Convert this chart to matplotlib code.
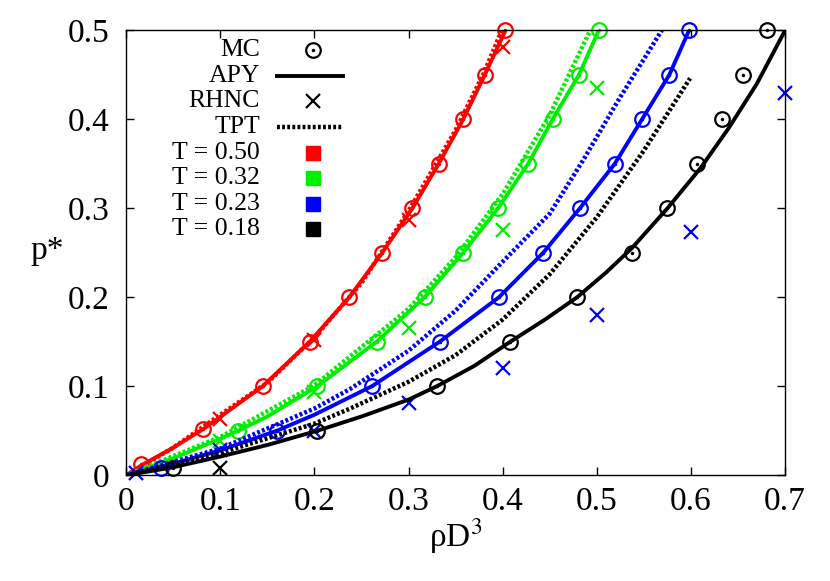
import matplotlib
matplotlib.use("Agg")
import matplotlib.pyplot as plt

plt.rcParams['font.family'] = ['Liberation Serif', 'DejaVu Serif']
plt.rcParams['mathtext.fontset'] = 'stix'

temps = ["0.50", "0.32", "0.23", "0.18"]
colors = ["#ff0000", "#00ee00", "#0000ff", "#000000"]

# MC simulation points
mc_x = [
    [0.016, 0.082, 0.145, 0.195, 0.237, 0.272, 0.304, 0.332, 0.358, 0.381, 0.402],
    [0.119, 0.203, 0.266, 0.317, 0.358, 0.395, 0.427, 0.453, 0.481, 0.502],
    [0.037, 0.160, 0.261, 0.333, 0.396, 0.443, 0.482, 0.519, 0.548, 0.577, 0.598],
    [0.050, 0.203, 0.330, 0.408, 0.479, 0.537, 0.575, 0.606, 0.633, 0.655, 0.681],
]
mc_p = [
    [0.013, 0.052, 0.10, 0.15, 0.20, 0.25, 0.30, 0.35, 0.40, 0.45, 0.50],
    [0.05, 0.10, 0.15, 0.20, 0.25, 0.30, 0.35, 0.40, 0.45, 0.50],
    [0.008, 0.05, 0.10, 0.15, 0.20, 0.25, 0.30, 0.35, 0.40, 0.45, 0.50],
    [0.008, 0.05, 0.10, 0.15, 0.20, 0.25, 0.30, 0.35, 0.40, 0.45, 0.50],
]

# RHNC points
rhnc_x = [
    [0.1, 0.2, 0.3, 0.4],
    [0.1, 0.2, 0.3, 0.4, 0.5],
    [0.01, 0.1, 0.2, 0.3, 0.4, 0.5, 0.6, 0.7],
    [0.1],
]
rhnc_p = [
    [0.063, 0.152, 0.287, 0.481],
    [0.038, 0.093, 0.166, 0.276, 0.435],
    [0.002, 0.028, 0.05, 0.081, 0.121, 0.18, 0.273, 0.429],
    [0.008],
]

# APY curves
apy_x = [
    [0.0, 0.016, 0.05, 0.082, 0.145, 0.195, 0.237, 0.272, 0.304, 0.332, 0.358, 0.381, 0.403],
    [0.0, 0.05, 0.10, 0.119, 0.15, 0.203, 0.266, 0.317, 0.358, 0.395, 0.427, 0.453, 0.481, 0.502],
    [0.0, 0.05, 0.10, 0.16, 0.20, 0.261, 0.333, 0.396, 0.443, 0.482, 0.519, 0.548, 0.577, 0.598],
    [0.0, 0.05, 0.10, 0.15, 0.203, 0.25, 0.30, 0.33, 0.37, 0.408, 0.445, 0.479, 0.51, 0.537,
     0.575, 0.61, 0.64, 0.67, 0.70],
]
apy_p = [
    [0.0, 0.011, 0.031, 0.052, 0.10, 0.15, 0.20, 0.25, 0.30, 0.35, 0.40, 0.45, 0.50],
    [0.0, 0.019, 0.041, 0.05, 0.066, 0.10, 0.15, 0.20, 0.25, 0.30, 0.35, 0.40, 0.45, 0.50],
    [0.0, 0.013, 0.028, 0.05, 0.068, 0.10, 0.15, 0.20, 0.25, 0.30, 0.35, 0.40, 0.45, 0.50],
    [0.0, 0.009, 0.021, 0.034, 0.05, 0.066, 0.085, 0.10, 0.123, 0.15, 0.175, 0.20, 0.228, 0.255,
     0.30, 0.345, 0.39, 0.44, 0.50],
]

# TPT curves
tpt_x = [
    [0.0, 0.05, 0.10, 0.15, 0.20, 0.25, 0.30, 0.35, 0.38, 0.399],
    [0.0, 0.10, 0.20, 0.30, 0.35, 0.40, 0.45, 0.493],
    [0.0, 0.10, 0.20, 0.238, 0.30, 0.35, 0.40, 0.45, 0.486, 0.522, 0.569],
    [0.0, 0.10, 0.20, 0.238, 0.30, 0.35, 0.40, 0.45, 0.50, 0.55, 0.599],
]
tpt_p = [
    [0.0, 0.031, 0.068, 0.104, 0.155, 0.216, 0.297, 0.388, 0.452, 0.50],
    [0.0, 0.043, 0.101, 0.187, 0.245, 0.316, 0.405, 0.50],
    [0.0, 0.030, 0.075, 0.097, 0.14, 0.185, 0.24, 0.294, 0.355, 0.42, 0.50],
    [0.0, 0.025, 0.058, 0.075, 0.105, 0.135, 0.175, 0.226, 0.29, 0.365, 0.446],
]

dots = (0, (0.65, 0.5))

fig = plt.figure(figsize=(8.3, 5.81), dpi=100)
ax = fig.add_axes([0.152, 0.182, 0.794, 0.766])

for i in range(4):
    c = colors[i]
    ax.plot(apy_x[i], apy_p[i], color=c, lw=2.8, solid_capstyle='butt')
    ax.plot(tpt_x[i], tpt_p[i], color=c, lw=3.2, linestyle=dots)
    ax.plot(mc_x[i], mc_p[i], 'o', ms=10.5, mfc='none', mec=c, mew=1.6, clip_on=False)
    ax.plot(mc_x[i], mc_p[i], 'o', ms=1.5, color=c, clip_on=False)
    ax.plot(rhnc_x[i], rhnc_p[i], 'x', ms=9.5, mec=c, mew=1.6, clip_on=False)

ax.set_xlim(0, 0.7)
ax.set_ylim(0, 0.5)
ax.set_xticks([0, 0.1, 0.2, 0.3, 0.4, 0.5, 0.6, 0.7])
ax.set_xticklabels(["0", "0.1", "0.2", "0.3", "0.4", "0.5", "0.6", "0.7"])
ax.set_yticks([0, 0.1, 0.2, 0.3, 0.4, 0.5])
ax.set_yticklabels(["0", "0.1", "0.2", "0.3", "0.4", "0.5"])
ax.tick_params(direction='in', length=6, width=1, top=True, right=True, labelsize=24)
ax.tick_params(axis='x', pad=8)
ax.tick_params(axis='y', pad=12)
for s in ax.spines.values():
    s.set_linewidth(1)

ax.set_xlabel(r"ρD$^3$", fontsize=24, labelpad=0)
ax.set_ylabel("p*", fontsize=24, rotation=0)
ax.yaxis.set_label_coords(-0.12, 0.47)

# legend, drawn by hand so the labels sit right-aligned like gnuplot's key
tr = ax.transAxes
y0 = 0.955
dy = 0.0575
labels = ["MC", "APY", "RHNC", "TPT"] + ["T = " + t for t in temps]
for k, lab in enumerate(labels):
    y = y0 - k * dy
    ax.text(0.203, y, lab, transform=tr, ha='right', va='center', fontsize=18.5)
ax.plot([0.284], [y0], 'o', ms=10.5, mfc='none', mec='k', mew=1.6, transform=tr)
ax.plot([0.284], [y0], 'o', ms=1.5, color='k', transform=tr)
ax.plot([0.229, 0.329], [y0 - dy] * 2, color='k', lw=2.8, transform=tr)
ax.plot([0.284], [y0 - 2 * dy], 'x', ms=9.5, mec='k', mew=1.6, transform=tr)
ax.plot([0.229, 0.329], [y0 - 3 * dy] * 2, color='k', lw=3.2, linestyle=dots, transform=tr)
for i in range(4):
    ax.plot([0.284], [y0 - (4 + i) * dy], 's', ms=10, color=colors[i], transform=tr)

fig.savefig("out.png", dpi=100)
